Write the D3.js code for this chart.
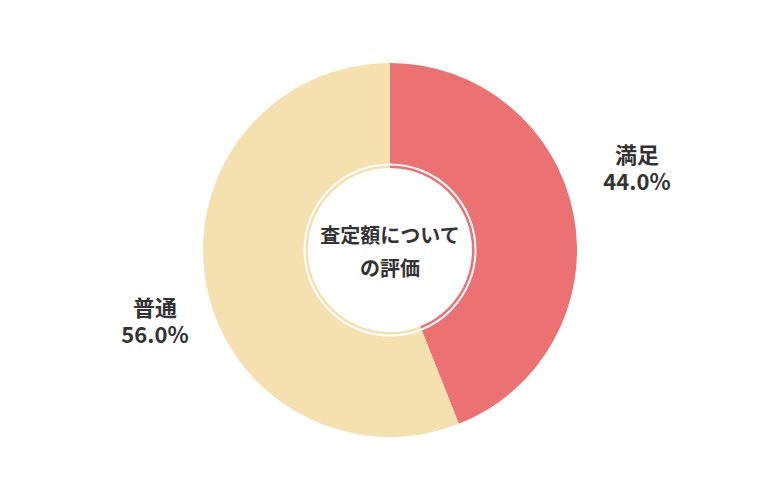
<!DOCTYPE html>
<html><head><meta charset="utf-8">
<script src="https://cdn.jsdelivr.net/npm/d3@7"></script>
<style>body{margin:0;background:#fff}text{font-family:"Noto Sans CJK JP","Noto Sans",sans-serif;font-weight:700;fill:#333}</style>
</head><body>
<svg width="780" height="500"></svg>
<script>
const categories = ["満足", "普通"];
const values = [44.0, 56.0];
const colors = ["#eb7172", "#f5e1b0"];
const labelPos = [[637, 155], [155, 308]];

const svg = d3.select("svg");
const g = svg.append("g").attr("transform", "translate(390,250)");
const pie = d3.pie().sort(null).value(d => d)(values);
const arc = d3.arc().innerRadius(80).outerRadius(187);
g.selectAll("path").data(pie).enter().append("path")
    .attr("d", arc).attr("fill", (d, i) => colors[i]);
g.append("circle").attr("r", 85.5).attr("fill", "none").attr("stroke", "#fff").attr("stroke-width", 2);
g.append("circle").attr("r", 82).attr("fill", "#fff");

g.append("text").attr("text-anchor", "middle").attr("y", -7).attr("font-size", 20).text("査定額について");
g.append("text").attr("text-anchor", "middle").attr("y", 26).attr("font-size", 20).text("の評価");

// category name and percentage as two separate lines
categories.forEach((c, i) => {
    const [x, y] = labelPos[i];
    svg.append("text").attr("text-anchor", "middle").attr("font-size", 22)
        .attr("x", x).attr("y", y + 8).text(c);
    svg.append("text").attr("text-anchor", "middle").attr("font-size", 22)
        .attr("x", x).attr("y", y + 35).text(values[i].toFixed(1) + "%");
});
</script>
</body></html>
